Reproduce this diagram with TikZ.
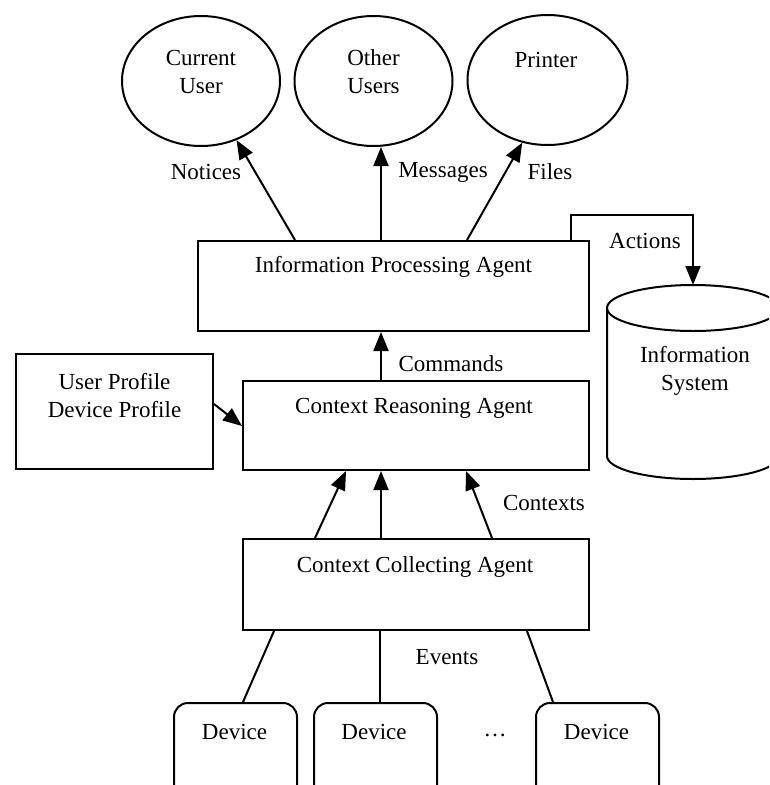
\documentclass[tikz,border=0pt]{standalone}
\usepackage{fontspec}
\setmainfont{Liberation Serif}
\usetikzlibrary{arrows.meta,shapes.geometric,calc}

\begin{document}
\begin{tikzpicture}[x=1pt,y=-1pt,line width=2pt,
  txt/.style={font=\fontsize{23}{28}\selectfont,inner sep=0pt,align=center},
  agent/.style={draw,rectangle,inner sep=0pt},
  target/.style={draw,ellipse,inner sep=0pt,minimum width=158pt,minimum height=130pt},
  device/.style={draw,rectangle,rounded corners=14pt,inner sep=0pt,minimum width=123pt,minimum height=110pt},
  arr/.style={-{Triangle[length=19pt,width=15pt]}}]

\useasboundingbox (0,0) rectangle (769,785);
\clip (0,0) rectangle (769,785);

% output targets
\node[target] (cu) at (201,81) {};
\node[target] (ou) at (373.5,81) {};
\node[target,minimum width=160pt] (pr) at (547.5,80) {};
\node[txt] (cuT) at (201,72) {Current\\User};
\node[txt] (ouT) at (373.5,72) {Other\\Users};
\node[txt] (prT) at (546,60) {Printer};

% agents
\node[agent,minimum width=391pt,minimum height=90pt] (ipa) at (393.5,286) {};
\node[txt] (ipaT) at (393.5,267) {Information Processing Agent};
\node[agent,minimum width=346pt,minimum height=89pt] (cra) at (416,425.5) {};
\node[txt] (craT) at (414,408) {Context Reasoning Agent};
\node[agent,minimum width=346pt,minimum height=91pt] (cca) at (416,584.5) {};
\node[txt] (ccaT) at (415,567) {Context Collecting Agent};
\node[agent,minimum width=197pt,minimum height=115pt] (up) at (114.5,411.5) {};
\node[txt] (upT) at (114.5,396) {User Profile\\Device Profile};

% information system cylinder
\draw (607,308) -- (607,456) arc[start angle=180,end angle=0,x radius=86,y radius=23]
      -- (779,308);
\draw (693,308) ellipse[x radius=86,y radius=23];
\coordinate (isTop) at (693,285);
\node[txt] (isT) at (695,371) {Information\\System};

% devices
\node[device,anchor=north west] (d1) at (173,702) {};
\node[device,anchor=north west] (d2) at (313,702) {};
\node[device,anchor=north west] (d3) at (535,702) {};
\node[txt] (d1T) at (234.5,732) {Device};
\node[txt] (d2T) at (374,732) {Device};
\node[txt] (d3T) at (596.5,732) {Device};
\node[txt] (dots) at (495,735) {\dots};

% outputs of the processing agent
\coordinate (ipaN1) at ($(ipa.north west)+(98,0)$);
\coordinate (ipaN2) at ($(ipa.north west)+(184,0)$);
\coordinate (ipaN3) at ($(ipa.north west)+(270,0)$);
\coordinate (ipaN4) at ($(ipa.north west)+(374,0)$);
\draw[arr] (ipaN1) -- (cu.-59);
\draw[arr] (ipaN2) -- (ipaN2 |- ou.south);
\draw[arr] (ipaN3) -- (pr.-112);
\draw[arr] (ipaN4) -- ++(0,-25) -| (isTop);
\node[txt] (lNot) at (206,172) {Notices};
\node[txt] (lMsg) at (443,172) {Messages};
\node[txt] (lFil) at (550,172) {Files};
\node[txt] (lAct) at (645,241) {Actions};

% reasoning to processing
\coordinate (craN) at ($(cra.north west)+(139,0)$);
\draw[arr] (craN) -- (craN |- ipa.south);
\node[txt] (lCmd) at (451,364) {Commands};
\draw[arr] ($(up.north east)+(0,51)$) -- ($(cra.north west)+(0,46)$);

% collecting to reasoning
\draw[arr] ($(cca.north west)+(73,0)$) -- ($(cra.south west)+(104,0)$);
\draw[arr] ($(cca.north west)+(139,0)$) -- ($(cra.south west)+(139,0)$);
\draw[arr] ($(cca.north west)+(250,0)$) -- ($(cra.south west)+(224,0)$);
\node[txt] (lCtx) at (544,503) {Contexts};

% devices to collecting
\coordinate (evMid) at ($(cca.south west)+(138,0)$);
\draw ($(cca.south west)+(32,0)$) -- ($(d1.north west)+(70,0)$);
\draw (evMid) -- (evMid |- d2.north);
\draw ($(cca.south west)+(285,0)$) -- ($(d3.north west)+(18,0)$);
\node[txt] (lEv) at (447,657) {Events};
\end{tikzpicture}
\end{document}
